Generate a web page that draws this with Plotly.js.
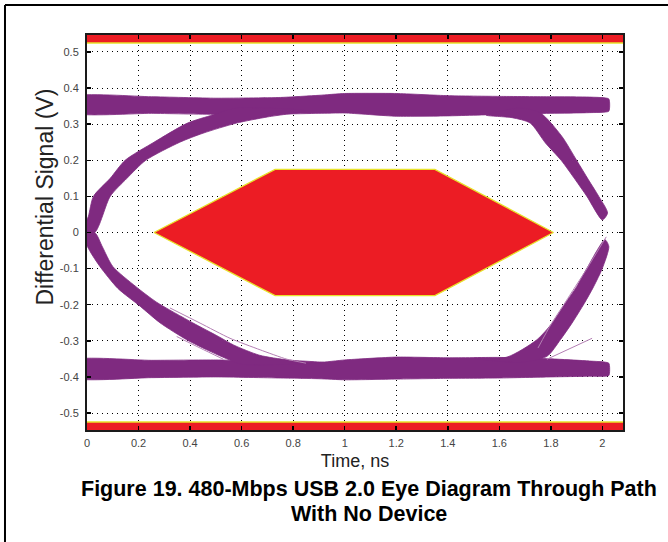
<!DOCTYPE html>
<html>
<head>
<meta charset="utf-8">
<script src="https://cdn.plot.ly/plotly-3.0.1.min.js"></script>
<style>
  html, body { margin: 0; padding: 0; background: #fff; }
  #chart { width: 668px; height: 542px; }
</style>
</head>
<body>
<div id="chart"></div>
<script>
// ---- axis ticks ----
const xTickVals = [0, 0.2, 0.4, 0.6, 0.8, 1, 1.2, 1.4, 1.6, 1.8, 2];
const xTickText = ['0', '0.2', '0.4', '0.6', '0.8', '1', '1.2', '1.4', '1.6', '1.8', '2'];
const yTickVals = [-0.5, -0.4, -0.3, -0.2, -0.1, 0, 0.1, 0.2, 0.3, 0.4, 0.5];
const yTickText = ['-0.5', '-0.4', '-0.3', '-0.2', '-0.1', '0', '0.1', '0.2', '0.3', '0.4', '0.5'];

// ---- mask (keep-out regions) ----
const maskX = [0.26, 0.73, 1.35, 1.81, 1.35, 0.73, 0.26];
const maskY = [0, 0.175, 0.175, 0, -0.175, -0.175, 0];
const limitEdgeX = [-0.1, 2.2];
const upperLimitY = 0.525;
const lowerLimitY = -0.525;
const limitOuterY = 0.7;

// ---- eye: high and low rails (V) ----
const railX = [-0.05, 0.25, 0.5, 0.75, 0.9, 1.0, 1.2, 1.4, 1.6, 1.8, 1.95, 2.025];
const topRailUpper = [0.377, 0.376, 0.372, 0.374, 0.380, 0.385, 0.385, 0.379, 0.377, 0.376, 0.375, 0.370];
const topRailLower = [0.331, 0.330, 0.327, 0.328, 0.330, 0.331, 0.322, 0.323, 0.327, 0.330, 0.332, 0.336];
const botRailUpper = [-0.353, -0.354, -0.353, -0.357, -0.360, -0.353, -0.345, -0.347, -0.346, -0.350, -0.356, -0.362];
const botRailLower = [-0.403, -0.402, -0.400, -0.403, -0.405, -0.408, -0.406, -0.404, -0.403, -0.400, -0.398, -0.396];

// ---- eye: transitions ----
const ulOuterX = [-0.02, 0.005, 0.025, 0.09, 0.148, 0.26, 0.39, 0.49, 0.58];
const ulOuterY = [0, 0.044, 0.1, 0.15, 0.2, 0.25, 0.303, 0.326, 0.345];
const ulInnerX = [0.03, 0.09, 0.155, 0.228, 0.36, 0.45, 0.58, 0.70, 0.85];
const ulInnerY = [0, 0.1, 0.15, 0.2, 0.25, 0.275, 0.303, 0.32, 0.337];

const llOuterX = [-0.02, 0.01, 0.05, 0.12, 0.206, 0.283, 0.387, 0.465, 0.543, 0.6];
const llOuterY = [0, -0.05, -0.094, -0.155, -0.204, -0.25, -0.297, -0.325, -0.35, -0.365];
const llInnerX = [0.03, 0.06, 0.10, 0.19, 0.27, 0.41, 0.51, 0.57, 0.67, 0.78, 0.92];
const llInnerY = [0, -0.04, -0.094, -0.15, -0.193, -0.25, -0.288, -0.312, -0.34, -0.353, -0.36];

const ruOuterX = [1.68, 1.76, 1.843, 1.90, 1.946, 1.986, 2.02];
const ruOuterY = [0.345, 0.331, 0.266, 0.2, 0.146, 0.1, 0.054];
const ruInnerX = [1.55, 1.65, 1.72, 1.779, 1.84, 1.895, 1.94, 2.0];
const ruInnerY = [0.325, 0.318, 0.303, 0.248, 0.2, 0.146, 0.1, 0.035];

const rlOuterX = [1.68, 1.785, 1.837, 1.882, 1.93, 1.966, 2.0, 2.025];
const rlOuterY = [-0.36, -0.343, -0.297, -0.251, -0.196, -0.15, -0.099, -0.039];
const rlInnerX = [1.5, 1.63, 1.746, 1.805, 1.856, 1.90, 1.94, 2.01];
const rlInnerY = [-0.348, -0.345, -0.297, -0.251, -0.196, -0.15, -0.099, -0.02];

// ---- stray single traces ----
const llThinAX = [0.322, 0.439, 0.555, 0.672, 0.776, 0.85];
const llThinAY = [-0.209, -0.251, -0.293, -0.325, -0.351, -0.362];
const llThinBX = [0.348, 0.439, 0.529];
const llThinBY = [-0.288, -0.32, -0.351];
const rlThinAX = [1.75, 1.80, 1.85, 1.895, 1.94, 2.015];
const rlThinAY = [-0.32, -0.255, -0.2, -0.15, -0.1, -0.012];
const rlThinBX = [1.785, 1.96];
const rlThinBY = [-0.351, -0.293];

// ---- styling ----
const PURPLE = '#7f2a80';
const LAVENDER = '#b47fb4';
const RED = '#ec1c24';
const YELLOW = '#e8e22a';

function band(xa, ya, xb, yb) {
  return {
    x: xa.concat(xb.slice().reverse()).concat([xa[0]]),
    y: ya.concat(yb.slice().reverse()).concat([ya[0]])
  };
}

function polyTrace(p, fill, edge, w, smooth) {
  const line = { color: edge, width: w };
  if (smooth) { line.shape = 'spline'; line.smoothing = smooth; }
  return {
    type: 'scatter', mode: 'lines', x: p.x, y: p.y,
    fill: 'toself', fillcolor: fill, line: line,
    hoverinfo: 'skip', showlegend: false
  };
}
function thin(x, y) {
  return {
    type: 'scatter', mode: 'lines', x: x, y: y,
    line: { color: LAVENDER, width: 1, shape: 'spline', smoothing: 0.6 },
    hoverinfo: 'skip', showlegend: false
  };
}

const traces = [];
// limit regions
traces.push(polyTrace({
  x: [limitEdgeX[0], limitEdgeX[1], limitEdgeX[1], limitEdgeX[0], limitEdgeX[0]],
  y: [upperLimitY, upperLimitY, limitOuterY, limitOuterY, upperLimitY]
}, RED, YELLOW, 1.5));
traces.push(polyTrace({
  x: [limitEdgeX[0], limitEdgeX[1], limitEdgeX[1], limitEdgeX[0], limitEdgeX[0]],
  y: [lowerLimitY, lowerLimitY, -limitOuterY, -limitOuterY, lowerLimitY]
}, RED, YELLOW, 1.5));

// eye
traces.push(polyTrace(band(railX, topRailUpper, railX, topRailLower), PURPLE, PURPLE, 0.8, 0.5));
traces.push(polyTrace(band(railX, botRailUpper, railX, botRailLower), PURPLE, PURPLE, 0.8, 0.5));
traces.push(polyTrace(band(ulOuterX, ulOuterY, ulInnerX, ulInnerY), PURPLE, PURPLE, 0.8, 0.7));
traces.push(polyTrace(band(llOuterX, llOuterY, llInnerX, llInnerY), PURPLE, PURPLE, 0.8, 0.7));
traces.push(polyTrace(band(ruOuterX, ruOuterY, ruInnerX, ruInnerY), PURPLE, PURPLE, 0.8, 0.7));
traces.push(polyTrace(band(rlOuterX, rlOuterY, rlInnerX, rlInnerY), PURPLE, PURPLE, 0.8, 0.7));
traces.push(thin(llThinAX, llThinAY));
traces.push(thin(llThinBX, llThinBY));
traces.push(thin(rlThinAX, rlThinAY));
traces.push(thin(rlThinBX, rlThinBY));

// mask
traces.push(polyTrace({ x: maskX, y: maskY }, RED, YELLOW, 1.3));

const tickFont = { family: 'Liberation Sans, Arial, sans-serif', size: 11, color: '#444' };
const axisCommon = {
  showgrid: true, gridcolor: '#000', gridwidth: 1, griddash: '1px,4px',
  zeroline: false, showline: true, linecolor: '#1a1a1a', linewidth: 2,
  mirror: 'ticks', ticks: 'inside', ticklen: 4, tickcolor: '#000', tickwidth: 1.5,
  tickfont: tickFont, fixedrange: true
};

const layout = {
  width: 668, height: 542,
  margin: { l: 87, r: 45, t: 35, b: 112, pad: 0 },
  paper_bgcolor: '#fff', plot_bgcolor: '#fff',
  showlegend: false,
  font: { family: 'Liberation Sans, Arial, sans-serif', color: '#222' },
  xaxis: Object.assign({}, axisCommon, {
    range: [0, 2.08], tickmode: 'array', tickvals: xTickVals, ticktext: xTickText,
    ticklabelstandoff: 2,
    title: { text: 'Time, ns', font: { size: 18, color: '#222' }, standoff: 6 }
  }),
  yaxis: Object.assign({}, axisCommon, {
    range: [-0.547, 0.547], tickmode: 'array', tickvals: yTickVals, ticktext: yTickText,
    ticklabelstandoff: 4
  }),
  annotations: [
    {
      xref: 'paper', yref: 'paper', x: -0.0784, y: 0.591,
      xanchor: 'center', yanchor: 'middle', textangle: -90, showarrow: false,
      text: 'Differential Signal (V)',
      font: { size: 23, color: '#222' }
    },
    {
      xref: 'paper', yref: 'paper', x: 0.526, y: -0.1494,
      xanchor: 'center', yanchor: 'middle', showarrow: false,
      text: '<b>Figure 19. 480-Mbps USB 2.0 Eye Diagram Through Path</b>',
      font: { size: 21.5, color: '#000' }
    },
    {
      xref: 'paper', yref: 'paper', x: 0.526, y: -0.2127,
      xanchor: 'center', yanchor: 'middle', showarrow: false,
      text: '<b>With No Device</b>',
      font: { size: 21.5, color: '#000' }
    }
  ],
  shapes: [
    { type: 'line', xref: 'paper', yref: 'paper', x0: -0.153, x1: 1.1, y0: 1.0759, y1: 1.0759,
      line: { color: '#000', width: 2 } },
    { type: 'line', xref: 'paper', yref: 'paper', x0: -0.153, x1: -0.153, y0: 1.0759, y1: -0.3,
      line: { color: '#000', width: 2 } }
  ]
};

Plotly.newPlot('chart', traces, layout, { staticPlot: true, displayModeBar: false });
</script>
</body>
</html>
